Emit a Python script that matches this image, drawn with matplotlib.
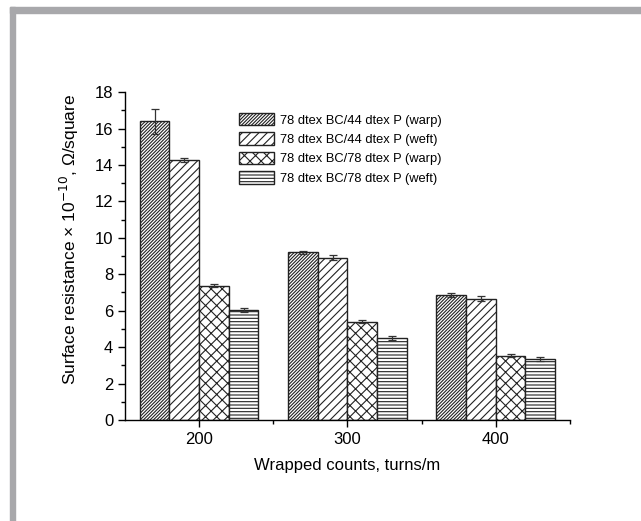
import numpy as np
import matplotlib.pyplot as plt
from matplotlib.patches import Rectangle

plt.rcParams['font.family'] = ['Liberation Sans', 'DejaVu Sans']
plt.rcParams['hatch.linewidth'] = 0.8

counts = [200, 300, 400]
series = ['78 dtex BC/44 dtex P (warp)', '78 dtex BC/44 dtex P (weft)',
          '78 dtex BC/78 dtex P (warp)', '78 dtex BC/78 dtex P (weft)']
values = [
    [16.4, 9.2, 6.86],
    [14.27, 8.92, 6.66],
    [7.38, 5.4, 3.53],
    [6.05, 4.5, 3.35],
]
errors = [
    [0.68, 0.1, 0.1],
    [0.1, 0.12, 0.13],
    [0.1, 0.1, 0.1],
    [0.1, 0.1, 0.1],
]
hatches = ['//////////', '////', 'xxx', '-----']

fig = plt.figure(figsize=(6.41, 5.21), dpi=100)
ax = fig.add_axes([0.195, 0.194, 0.694, 0.629])

# grey frame like the source page
grey = '#a8a8ab'
fig.patches.append(Rectangle((10 / 641, 1 - 13 / 521), 1, 6 / 521, transform=fig.transFigure,
                             color=grey, zorder=0))
fig.patches.append(Rectangle((10 / 641, 0), 5 / 641, 1 - 7 / 521, transform=fig.transFigure,
                             color=grey, zorder=0))

width = 20
x = np.array(counts, dtype=float)
for i in range(4):
    pos = x + (i - 1.5) * width
    ax.bar(pos, values[i], width, yerr=errors[i], color='white', edgecolor='#222222',
           hatch=hatches[i], linewidth=1.0, label=series[i],
           error_kw=dict(ecolor='#333333', elinewidth=0.9, capsize=3, capthick=0.9))

ax.set_xlim(150, 450)
ax.set_ylim(0, 18)
ax.set_xticks(counts)
ax.set_xticks([250, 350, 450], minor=True)
ax.set_yticks(range(0, 19, 2))
ax.set_yticks(range(1, 18, 2), minor=True)
ax.spines['top'].set_visible(False)
ax.spines['right'].set_visible(False)
for s in ['left', 'bottom']:
    ax.spines[s].set_linewidth(1.0)
ax.tick_params(axis='both', which='major', labelsize=12, length=5, width=1, direction='out')
ax.tick_params(axis='both', which='minor', length=3, width=1, direction='out')

ax.set_xlabel('Wrapped counts, turns/m', fontsize=12, labelpad=8)
ax.set_ylabel('Surface resistance × 10$^{-10}$, Ω/square', fontsize=12.5)
ax.yaxis.set_label_coords(-0.100, 0.55)

ax.legend(loc='upper left', bbox_to_anchor=(239 / 641, 1 - 113 / 521),
          bbox_transform=fig.transFigure, frameon=False, fontsize=9.3,
          handlelength=2.7, handleheight=1.1, labelspacing=0.45, handletextpad=0.45,
          borderpad=0, borderaxespad=0)

fig.savefig('out.png', dpi=100)
